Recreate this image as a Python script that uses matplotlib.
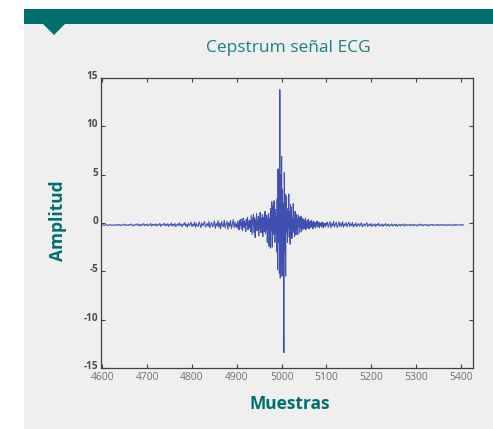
import numpy as np
import matplotlib
matplotlib.use("Agg")
import matplotlib.pyplot as plt
import matplotlib.transforms as mtransforms
from matplotlib.patches import Rectangle, Polygon

# ---------------- data ----------------
title = "Cepstrum señal ECG"
xlabel = "Muestras"
ylabel = "Amplitud"
xticks = [4600, 4700, 4800, 4900, 5000, 5100, 5200, 5300, 5400]
yticks = [-15, -10, -5, 0, 5, 10, 15]

left_start, left_step = 4598, 2
left_tail = [
    -0.20, -0.22, -0.18, -0.25, -0.21, -0.17, -0.23, -0.19, -0.26, -0.20, -0.15, -0.24, -0.21, -0.18, -0.27,
    -0.19, -0.22, -0.16, -0.25, -0.20, -0.13, -0.28, -0.21, -0.17, -0.24, -0.19, -0.11, -0.26, -0.20, -0.23,
    -0.15, -0.27, -0.18, -0.09, -0.25, -0.21, -0.30, -0.14, -0.22, -0.19, -0.08, -0.26, -0.17, -0.31, -0.12,
    -0.23, -0.20, -0.06, -0.28, -0.16, -0.24, -0.10, -0.29, -0.18, -0.21, -0.05, -0.33, -0.15, -0.22, -0.12,
    -0.27, -0.09, -0.31, -0.16, -0.20, -0.04, -0.35, -0.13, -0.24, -0.18, -0.02, -0.30, -0.11, -0.26, -0.07,
    -0.36, -0.15, -0.21, 0.00, -0.33, -0.12, -0.28, -0.05, -0.38, -0.17, -0.10, -0.31, 0.03, -0.25, -0.14,
    -0.40, -0.08, -0.22, 0.05, -0.34, -0.12, -0.43, -0.02, -0.27, -0.16, 0.08, -0.38, -0.10, -0.30, 0.10,
    -0.45, -0.06, -0.24, -0.35, 0.12, -0.18, -0.48, 0.02, -0.29, -0.11, 0.15, -0.42, -0.20, -0.05, -0.36,
    0.18, -0.50, -0.14, 0.05, -0.40, -0.22, 0.22, -0.55, -0.08, -0.30, 0.25, -0.46, 0.00, -0.60, 0.15,
    -0.25, -0.38, 0.30, -0.52, -0.10, 0.20, -0.65, 0.05, -0.35, 0.28, -0.58, -0.15, 0.35, -0.48, 0.10, -0.40,
]

center_start = 4900
center = [
    -0.1, -0.5, 0.2, -0.4, -0.1, -0.7, 0.3, -0.3, -0.2, 0.4, -0.6, -0.1, 0.1, -0.8, 0.5,
    -0.2, -0.4, 0.2, -0.5, 0.0, -0.9, 0.4, -0.2, -0.1, 0.6, -0.7, 0.1, -0.3, 0.3, -0.5,
    0.2, -0.9, 0.8, -0.3, -1.2, 0.5, -0.1, 0.9, -1.0, -0.2, 0.6, -1.5, 0.3, -0.4, 1.0,
    -0.8, 0.1, -0.3, 0.7, -1.3, 0.4, -0.6, 1.1, -0.2, -1.0, 0.5, -0.5, 0.9, -1.4, 0.2,
    0.6, -0.9, -0.1, 1.2, -1.1, 0.3, -0.7, 0.8, -2.0, 0.4,
    -0.6, 1.0, -2.4, 0.5, -1.8, -2.6, 1.5, -0.8, 2.2, -2.5, 0.3, 1.8, -1.2, 2.3, -0.5,
    -2.0, 1.4, -1.0, 0.6, -3.0,
    2.5, -4.8, 5.6, -2.0, 4.5, -5.2, 13.8, -5.7, 5.0, -4.0, 6.9, -5.5, 3.5, -2.5, 2.0,
    -13.4, 5.2, -3.0, 3.0, -5.5, 2.8, -1.0, 1.5,
    -2.0, 0.8, -0.5, 3.0, -1.5, 1.2, -2.2, 1.9, -0.4, 1.6, -1.6, 0.5, -1.0, 2.0, -0.8,
    0.3, -1.4, 1.2, -0.2, -1.2, 0.9, -0.6, 0.4, -1.2, 0.8, -0.3, 0.6, -1.0, 0.2, -0.5,
    0.7, -0.9, 0.1, 0.5, -0.7, -0.2, 0.4,
    -0.6, 0.2, -0.3, 0.5, -0.7, 0.0, -0.4, 0.3, -0.5, -0.1, 0.4, -0.6, 0.1, -0.3, 0.2,
    -0.5, -0.1, 0.3, -0.4, 0.0, -0.6, 0.2, -0.2, -0.4, 0.1, -0.3, -0.5, 0.0, -0.2, 0.2,
    -0.4, -0.1, -0.3, 0.1, -0.5, -0.2, 0.0, -0.3, -0.1, -0.4, 0.1, -0.3, -0.2, -0.5, 0.0,
    -0.2, -0.3, -0.1, -0.4, 0.0, -0.2,
]

right_step = 2
right_tail = [
    0.10, -0.45, -0.15, 0.15, -0.50, -0.05, -0.30, 0.20, -0.42, -0.12, 0.08, -0.48, -0.20, 0.12, -0.38,
    -0.02, -0.33, 0.14, -0.44, -0.10, -0.25, 0.05, -0.40, -0.16, 0.10, -0.36, -0.08, -0.28, 0.06, -0.42,
    -0.14, -0.30, 0.02, -0.38, -0.18, -0.06, -0.34, -0.12, 0.00, -0.40, -0.20, -0.08, -0.32, -0.15, 0.03,
    -0.36, -0.22, -0.10, -0.30, -0.04, -0.35, -0.17, -0.26, -0.08, -0.38, -0.14, -0.22, -0.02, -0.33, -0.19,
    -0.28, -0.10, -0.36, -0.16, -0.24, -0.06, -0.31, -0.20, -0.12, -0.34, -0.18, -0.26, -0.09, -0.32, -0.21,
    -0.15, -0.29, -0.11, -0.35, -0.19, -0.24, -0.13, -0.30, -0.17, -0.22, -0.08, -0.33, -0.20, -0.15, -0.27,
    -0.18, -0.24, -0.12, -0.30, -0.20, -0.16, -0.28, -0.14, -0.25, -0.19, -0.32, -0.17, -0.22, -0.11, -0.27,
    -0.21, -0.15, -0.29, -0.18, -0.24, -0.13, -0.26, -0.20, -0.31, -0.16, -0.23, -0.19, -0.14, -0.27, -0.21,
    -0.17, -0.25, -0.20, -0.13, -0.28, -0.19, -0.23, -0.16, -0.26, -0.21, -0.15, -0.24, -0.18, -0.29, -0.20,
    -0.14, -0.25, -0.22, -0.17, -0.27, -0.19, -0.23, -0.12, -0.26, -0.20, -0.16, -0.24, -0.21, -0.18, -0.25,
    -0.15, -0.22, -0.20,
]

# ---------------- build series ----------------
x_left = left_start + left_step * np.arange(len(left_tail))
x_center = center_start + np.arange(len(center))
right_start = x_center[-1] + right_step
x_right = right_start + right_step * np.arange(len(right_tail))
x = np.concatenate([x_left, x_center, x_right])
y = np.concatenate([left_tail, center, right_tail])

# ---------------- figure ----------------
W, H = 493, 429
fig = plt.figure(figsize=(W / 100, H / 100), dpi=100)
fig.patch.set_facecolor("white")

PANEL = "#efefef"
TEAL = "#006f70"
TEXT_TEAL = "#1d8080"

def fx(px):
    return px / W

def fy(py):
    return 1 - py / H

# panel background
fig.patches.append(Rectangle((fx(24), 0), 1 - fx(24), fy(24), transform=fig.transFigure,
                             facecolor=PANEL, edgecolor="none", zorder=-2))
# header bar
fig.patches.append(Rectangle((fx(24), fy(24)), 1 - fx(24), fy(9) - fy(24), transform=fig.transFigure,
                             facecolor=TEAL, edgecolor="none", zorder=-1))
# small triangle
fig.patches.append(Polygon([(fx(43), fy(24)), (fx(65), fy(24)), (fx(54), fy(35))], closed=True,
                           transform=fig.transFigure, facecolor=TEAL, edgecolor="none", zorder=-1))

ax_l, ax_r, ax_t, ax_b = 101, 473, 78, 368
ax = fig.add_axes([fx(ax_l), fy(ax_b), fx(ax_r - ax_l), (ax_b - ax_t) / H])
ax.set_zorder(5)
ax.set_facecolor(PANEL)
ax.plot(x, y, color="#4150b0", linewidth=0.75)

ax.set_xlim(4597, 5427)
ax.set_ylim(-15, 15)
ax.set_xticks(xticks)
ax.set_yticks(yticks)
ax.set_xticklabels([str(v) for v in xticks], fontfamily="Open Sans", fontsize=7.5, color="#707070")
ax.set_yticklabels([str(v) for v in yticks], fontfamily="Open Sans", fontsize=7.2, color="#4a4a4a",
                   fontweight="bold")
ax.tick_params(direction="in", length=3, width=0.8, color="#404040", top=True, right=True, pad=3)
ax.tick_params(axis="y", pad=2)
for s in ax.spines.values():
    s.set_color("#404040")
    s.set_linewidth(0.9)

# y tick labels sit slightly above their ticks in the reference
shift = mtransforms.ScaledTranslation(0, 3 / 100, fig.dpi_scale_trans)
for lbl in ax.get_yticklabels():
    lbl.set_transform(lbl.get_transform() + shift)

fig.text(fx(288), fy(48), title, ha="center", va="center", fontfamily="Open Sans",
         fontsize=12.5, color=TEXT_TEAL)
fig.text(fx(290), fy(404), xlabel, ha="center", va="center", fontfamily="Open Sans",
         fontsize=12.5, fontweight="bold", color=TEAL)
fig.text(fx(58), fy(221), ylabel, ha="center", va="center", rotation=90, fontfamily="Open Sans",
         fontsize=12.5, fontweight="bold", color=TEAL)

fig.savefig("out.png", dpi=100)
